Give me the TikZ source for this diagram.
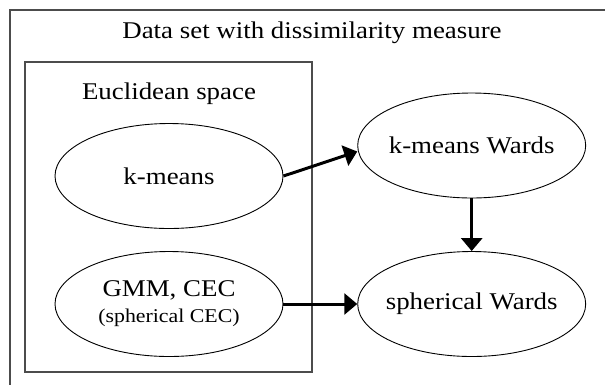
\documentclass[tikz,border=0pt]{standalone}
\usepackage{fontspec}
\setmainfont{Liberation Serif}
\newfontfamily\reffont[FakeStretch=1.12]{Liberation Serif}
\usetikzlibrary{shapes.geometric,arrows.meta}
\newcommand\bigtxt{\reffont\fontsize{24}{26}\selectfont}
\newcommand\smalltxt{\reffont\fontsize{19.5}{26}\selectfont}
\newcommand\zw[1]{\makebox[0pt][c]{#1}}
\begin{document}
\begin{tikzpicture}[x=1pt,y=-1pt,
  ell/.style={draw,ellipse,minimum width=228pt,minimum height=105pt,inner sep=0pt,line width=0.9pt,font=\bigtxt,align=center},
  frameline/.style={draw=black!70,line width=1.4pt},
  lbl/.style={anchor=base,inner sep=0pt,font=\bigtxt},
  conn/.style={line width=3pt,-{Triangle[length=13pt,width=21pt]}}]
\useasboundingbox (0,0) rectangle (605,384);
\clip (0,0) rectangle (605,384);
\fill[white] (0,0) rectangle (605,384);
\draw[frameline] (10,10) rectangle (620,400);
\draw[frameline] (25,62) rectangle (312,372);
\node[lbl] (title) at (312,38.7) {Data set with dissimilarity measure};
\node[lbl] (eu) at (169,99) {Euclidean space};
\node[ell] (km) at (169,176) {\zw{k-means}};
\node[ell] (kw) at (471.7,145.5) {\zw{k-means Wards}};
\node[ell] (gmm) at (169,304) {\zw{GMM, CEC}\\\zw{\smalltxt (spherical CEC)}};
\node[ell] (sw) at (471.7,304) {\zw{spherical Wards}};
\draw[conn] (km.east) -- ([yshift=-6pt]kw.west);
\draw[conn] (kw.south) -- (sw.north);
\draw[conn] (gmm.east) -- (sw.west);
\end{tikzpicture}
\end{document}
